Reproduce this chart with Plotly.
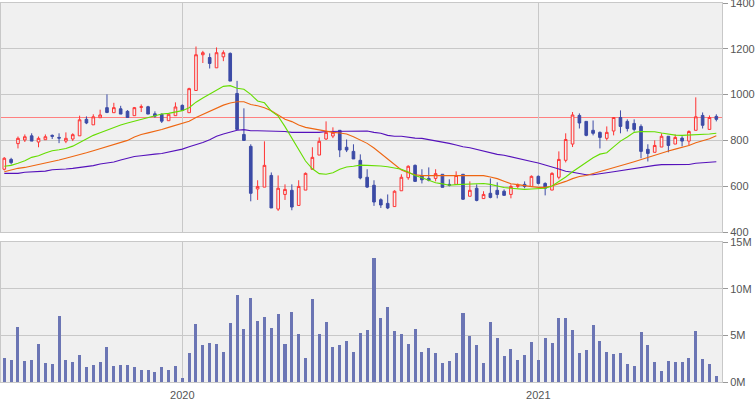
import pandas as pd
import plotly.graph_objects as go

# ---------------- data ----------------
weeks = pd.date_range("2019-07-01", periods=105, freq="7D").strftime("%Y-%m-%d").tolist()

open_ = [674, 717, 786, 802, 820, 793, 803, 822, 813, 797,
         806, 820, 892, 868, 899, 943, 921, 938, 927, 908,
         944, 947, 916, 914, 886, 908, 953, 921, 1018, 1174,
         1162, 1117, 1165, 1180, 1005, 826, 774, 588, 596, 647,
         500, 564, 582, 516, 583, 674, 736, 806, 819, 844,
         770, 752, 713, 639, 604, 541, 525, 511, 580, 637,
         691, 647, 634, 634, 652, 608, 608, 652, 556, 591,
         546, 569, 582, 578, 564, 599, 608, 599, 643, 612,
         583, 639, 713, 784, 909, 883, 844, 835, 809, 841,
         900, 883, 874, 861, 761, 748, 771, 818, 784, 810,
         797, 844, 909, 848, 905]
high = [727, 724, 817, 826, 831, 817, 826, 826, 831, 835,
        831, 908, 905, 914, 934, 1001, 964, 951, 932, 946,
        957, 951, 927, 918, 914, 966, 957, 1030, 1210, 1191,
        1180, 1206, 1193, 1184, 1060, 940, 783, 626, 796, 660,
        647, 608, 608, 626, 660, 770, 813, 883, 857, 844,
        804, 783, 739, 674, 626, 547, 564, 582, 652, 691,
        695, 674, 682, 674, 652, 630, 665, 652, 621, 608,
        578, 634, 617, 586, 608, 612, 621, 647, 647, 617,
        661, 752, 831, 924, 918, 883, 887, 839, 861, 900,
        931, 892, 892, 870, 783, 800, 831, 818, 826, 818,
        844, 988, 922, 909, 914]
low = [669, 695, 765, 793, 797, 770, 803, 806, 788, 788,
       797, 820, 871, 868, 899, 919, 921, 915, 900, 908,
       924, 915, 899, 876, 886, 908, 931, 921, 1018, 1138,
       1114, 1117, 1146, 1059, 848, 800, 534, 540, 596, 505,
       492, 540, 495, 516, 583, 674, 736, 802, 810, 727,
       749, 719, 630, 592, 514, 505, 500, 511, 580, 628,
       621, 612, 621, 621, 595, 599, 608, 540, 556, 534,
       546, 547, 547, 560, 547, 591, 591, 599, 608, 560,
       583, 630, 704, 771, 852, 818, 822, 765, 800, 822,
       831, 839, 839, 722, 708, 748, 771, 748, 784, 774,
       778, 844, 852, 848, 883]
close = [722, 703, 809, 816, 797, 809, 816, 818, 810, 809,
         825, 890, 876, 903, 911, 922, 943, 915, 900, 943,
         947, 915, 906, 884, 914, 946, 931, 1026, 1174, 1183,
         1136, 1183, 1183, 1059, 848, 800, 569, 599, 691, 505,
         591, 586, 509, 599, 656, 726, 796, 835, 835, 758,
         758, 719, 636, 596, 531, 518, 505, 578, 639, 687,
         621, 628, 626, 655, 595, 604, 647, 543, 582, 538,
         564, 551, 564, 560, 599, 604, 599, 643, 612, 591,
         656, 717, 804, 911, 876, 822, 831, 813, 835, 900,
         861, 852, 848, 752, 743, 778, 818, 778, 813, 797,
         839, 903, 866, 900, 892]

ma_short = [687, 691, 700, 711, 726, 733, 745, 755, 759, 765,
            775, 790, 807, 822, 833, 845, 858, 867, 876, 884,
            892, 900, 908, 915, 918, 924, 930, 943, 967, 985,
            1002, 1017, 1036, 1039, 1028, 1023, 1001, 972, 964, 928,
            906, 860, 810, 758, 710, 676, 655, 652, 659, 674,
            684, 687, 692, 691, 691, 688, 685, 679, 674, 662,
            647, 637, 627, 615, 610, 604, 607, 608, 612, 612,
            612, 608, 601, 594, 591, 588, 586, 588, 591, 591,
            601, 620, 640, 663, 684, 703, 724, 740, 746, 772,
            797, 815, 835, 839, 839, 838, 832, 826, 823, 822,
            823, 825, 826, 828, 831]
ma_mid = [663, 671, 678, 682, 688, 694, 700, 707, 714, 722,
          729, 738, 746, 755, 764, 772, 783, 791, 800, 815,
          826, 833, 839, 848, 857, 866, 873, 884, 900, 914,
          928, 941, 954, 963, 969, 969, 957, 951, 943, 930,
          912, 892, 882, 867, 857, 851, 845, 839, 835, 832,
          828, 816, 800, 787, 767, 743, 717, 691, 671, 659,
          650, 646, 646, 646, 646, 646, 649, 649, 649, 646,
          646, 640, 633, 622, 611, 607, 601, 598, 595, 595,
          601, 610, 621, 633, 642, 647, 655, 663, 672, 681,
          690, 698, 707, 717, 726, 736, 746, 754, 762, 770,
          778, 790, 797, 807, 820]
ma_long = [656, 656, 656, 661, 663, 663, 666, 672, 672, 675,
           678, 681, 687, 690, 697, 700, 706, 714, 723, 730,
           733, 738, 740, 743, 749, 756, 762, 772, 781, 791,
           803, 818, 828, 836, 844, 847, 842, 842, 842, 839,
           839, 839, 835, 835, 835, 835, 835, 839, 839, 839,
           842, 842, 842, 841, 835, 831, 822, 818, 818, 813,
           810, 809, 804, 799, 793, 787, 780, 772, 768, 761,
           752, 746, 739, 735, 729, 722, 716, 708, 701, 691,
           684, 675, 665, 661, 656, 650, 650, 653, 659, 663,
           668, 672, 676, 682, 687, 691, 694, 694, 694, 694,
           695, 700, 703, 706, 707]

volume_m = [2.62, 2.38, 5.89, 2.27, 2.38, 4.08, 2.06, 1.95, 7.06, 2.38,
            2.16, 2.91, 1.63, 1.84, 2.16, 3.76, 1.74, 1.84, 1.84, 1.63,
            1.31, 1.31, 1.10, 1.63, 1.31, 1.74, 0.46, 3.12, 6.21, 3.97,
            4.18, 4.08, 3.23, 6.31, 9.29, 5.67, 8.97, 6.52, 6.95, 5.78,
            7.27, 4.08, 7.48, 5.14, 2.59, 8.87, 5.14, 6.42, 3.76, 3.97,
            4.40, 3.23, 5.25, 5.57, 13.33, 6.84, 8.01, 5.46, 5.14, 4.08,
            5.67, 3.23, 3.65, 3.12, 2.06, 2.27, 3.12, 7.38, 4.93, 3.97,
            2.06, 6.42, 4.72, 2.80, 3.55, 2.38, 2.91, 4.29, 2.38, 4.72,
            4.18, 6.84, 6.84, 5.57, 3.12, 3.44, 6.10, 4.40, 3.23, 3.01,
            3.12, 1.95, 1.74, 5.35, 3.97, 2.16, 1.21, 2.27, 2.16, 2.16,
            2.59, 5.46, 2.48, 1.95, 0.67]

year_labels = ["2020", "2021"]
price_ticks = [400, 600, 800, 1000, 1200, 1400]
volume_ticks = [0, 5, 10, 15]
volume_labels = ["0M", "5M", "10M", "15M"]
reference_level = 900

# week that contains Jan 1 of each labelled year
week_ts = pd.to_datetime(weeks)
year_weeks = []
for y in year_labels:
    jan1 = pd.Timestamp(f"{y}-01-01")
    for w, ts in zip(weeks, week_ts):
        if ts + pd.Timedelta(days=6) >= jan1:
            year_weeks.append(w)
            break

# ---------------- styles ----------------
BG = "#f0f0f0"
GRID = "#c8c8c8"
UP = "#ff3333"
DOWN = "#3c4ba6"
VOL = "#6b75b4"
TICKFONT = dict(family="Liberation Sans", size=11, color="#555555")

fig = go.Figure()

fig.add_trace(go.Scatter(x=weeks, y=ma_long, mode="lines", line=dict(color="#5511bb", width=1.1),
                         xaxis="x", yaxis="y", hoverinfo="skip", showlegend=False))
fig.add_trace(go.Scatter(x=weeks, y=ma_mid, mode="lines", line=dict(color="#ee6611", width=1.1),
                         xaxis="x", yaxis="y", hoverinfo="skip", showlegend=False))
fig.add_trace(go.Scatter(x=weeks, y=ma_short, mode="lines", line=dict(color="#66dd00", width=1.1),
                         xaxis="x", yaxis="y", hoverinfo="skip", showlegend=False))

fig.add_trace(go.Candlestick(
    x=weeks, open=open_, high=high, low=low, close=close,
    xaxis="x", yaxis="y",
    increasing=dict(line=dict(color=UP, width=1), fillcolor=BG),
    decreasing=dict(line=dict(color=DOWN, width=1), fillcolor=DOWN),
    whiskerwidth=0, showlegend=False, hoverinfo="skip"))

fig.add_trace(go.Bar(x=weeks, y=volume_m, xaxis="x2", yaxis="y2", width=0.44,
                     marker=dict(color=VOL, line=dict(width=0)),
                     showlegend=False, hoverinfo="skip"))

x_range = [-0.48, len(weeks) - 1 + 0.83]

common_x = dict(type="category", range=x_range, tickvals=year_weeks, ticktext=year_labels,
                showgrid=True, gridcolor=GRID, gridwidth=1, showline=True, mirror=True,
                linecolor=GRID, zeroline=False, fixedrange=True, automargin=False)

common_y = dict(side="right", ticks="outside", ticklen=5, tickcolor="#999999", tickfont=TICKFONT,
                showgrid=True, gridcolor=GRID, showline=True, mirror=True, linecolor=GRID,
                zeroline=False, fixedrange=True, automargin=False, ticklabeloverflow="allow")

fig.update_layout(
    width=755, height=400,
    margin=dict(l=1, r=33, t=3, b=18),
    paper_bgcolor="white", plot_bgcolor=BG,
    boxgap=0.45,
    bargap=0,
    xaxis=dict(common_x, domain=[0, 1], anchor="y", showticklabels=False, ticks="",
               rangeslider=dict(visible=False)),
    xaxis2=dict(common_x, domain=[0, 1], anchor="y2", matches="x", showticklabels=True,
                ticks="outside", ticklen=3, tickcolor="rgba(0,0,0,0)", tickfont=TICKFONT),
    yaxis=dict(common_y, domain=[150 / 379, 1], range=[400, 1400], tickvals=price_ticks),
    yaxis2=dict(common_y, domain=[0, 140 / 379], range=[0, 15], tickvals=volume_ticks,
                ticktext=volume_labels),
    shapes=[dict(type="line", xref="paper", yref="y", x0=0, x1=1,
                 y0=reference_level, y1=reference_level,
                 line=dict(color="#ff8080", width=1), layer="below")],
)

fig.write_html("out.html", config={"displayModeBar": False},
               post_script="document.body.style.margin='0';")
